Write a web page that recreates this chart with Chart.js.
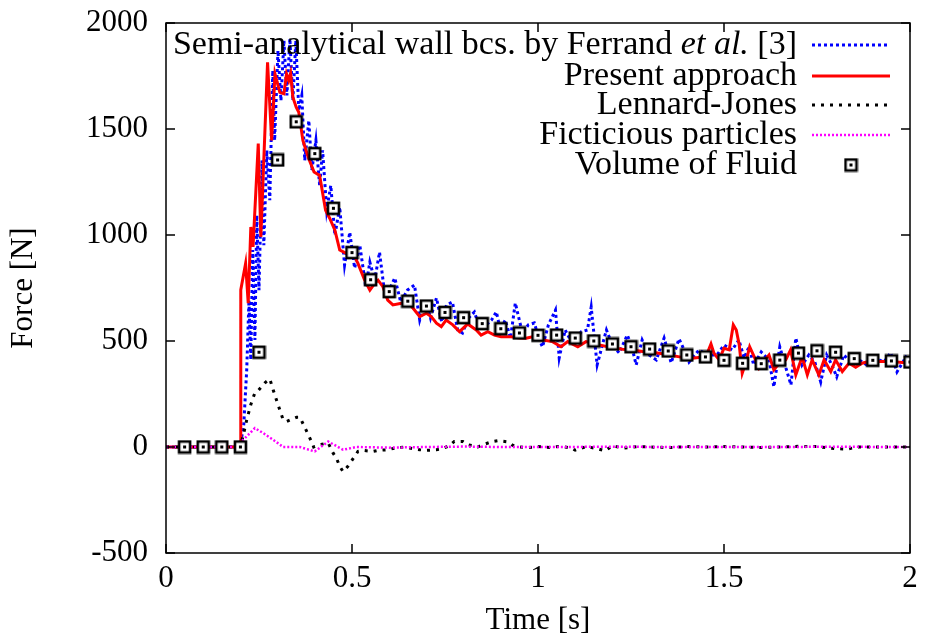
<html>
<head>
  <title>Force on wall</title>
  <style>
    body { margin: 0; background: #fff; }
  </style>
</head>
<body>
  <canvas id="forceChart" width="925" height="640"></canvas>
</body>
</html>

<script src="https://cdn.jsdelivr.net/npm/chart.js"></script>
<script>
  // axis ticks
  var xTicks = [0, 0.5, 1, 1.5, 2];
  var yTicks = [-500, 0, 500, 1000, 1500, 2000];

  // Semi-analytical wall bcs. (Ferrand et al.)
  var ferrandTime = [0, 0.199, 0.209, 0.217, 0.223, 0.228, 0.233, 0.239, 0.244, 0.250, 0.258, 0.263, 0.271, 0.279,
    0.287, 0.292, 0.301, 0.309, 0.317, 0.325, 0.333, 0.341, 0.349, 0.357, 0.365, 0.373, 0.384, 0.392, 0.403,
    0.413, 0.421, 0.432, 0.443, 0.454, 0.467, 0.480, 0.494, 0.507, 0.521, 0.537, 0.548, 0.561, 0.574, 0.585,
    0.596, 0.615, 0.631, 0.649, 0.668, 0.682, 0.698, 0.711, 0.727, 0.741, 0.754, 0.770, 0.784, 0.797, 0.813,
    0.829, 0.845, 0.861, 0.875, 0.888, 0.899, 0.912, 0.926, 0.939, 0.958, 0.974, 0.990, 1.004, 1.012, 1.028,
    1.047, 1.057, 1.073, 1.087, 1.103, 1.116, 1.133, 1.143, 1.159, 1.173, 1.184, 1.200, 1.218, 1.240, 1.251,
    1.264, 1.280, 1.299, 1.318, 1.339, 1.358, 1.379, 1.393, 1.406, 1.433, 1.455, 1.481, 1.500, 1.522, 1.540,
    1.554, 1.567, 1.580, 1.600, 1.621, 1.634, 1.650, 1.664, 1.680, 1.693, 1.710, 1.728, 1.744, 1.760, 1.776,
    1.790, 1.803, 1.822, 1.841, 1.863, 1.884, 1.906, 1.930, 1.948, 1.965, 1.989, 2.0];
  var ferrandForce = [0, 0, 105, 364, 693, 411, 929, 505, 1093, 740, 1352, 952, 1399, 1164,
    1776, 1446, 1870, 1634, 1917, 1658, 1926, 1634, 1917, 1587, 1658, 1352, 1540, 1305, 1446,
    1234, 1399, 1117, 1234, 999, 1131, 858, 1013, 844, 952, 754, 872, 787, 919, 764,
    726, 797, 684, 740, 764, 599, 693, 608, 703, 590, 670, 684, 552, 538, 608,
    637, 552, 576, 599, 637, 552, 599, 514, 679, 538, 576, 585, 505, 472, 576,
    646, 420, 552, 505, 505, 543, 552, 660, 387, 481, 552, 481, 444, 528, 481,
    387, 505, 434, 411, 514, 397, 510, 458, 401, 458, 434, 434, 481, 458, 505,
    420, 472, 387, 448, 411, 284, 472, 387, 293, 514, 387, 434, 401, 307, 434,
    387, 331, 434, 401, 411, 387, 420, 401, 444, 354, 425, 411];

  // Present approach
  var presentTime = [0, 0.199, 0.201, 0.214, 0.221, 0.228, 0.234, 0.248, 0.255, 0.273, 0.284, 0.293, 0.306,
    0.317, 0.324, 0.330, 0.335, 0.341, 0.350, 0.357, 0.368, 0.382, 0.398, 0.413, 0.429, 0.440, 0.454, 0.467,
    0.485, 0.503, 0.516, 0.534, 0.548, 0.561, 0.570, 0.583, 0.596, 0.610, 0.633, 0.650, 0.668, 0.682, 0.700,
    0.713, 0.727, 0.740, 0.753, 0.771, 0.789, 0.811, 0.834, 0.847, 0.865, 0.883, 0.901, 0.928, 0.950, 0.968,
    0.985, 1.013, 1.039, 1.062, 1.080, 1.107, 1.129, 1.165, 1.192, 1.227, 1.254, 1.281, 1.317, 1.353, 1.384,
    1.415, 1.442, 1.455, 1.465, 1.473, 1.487, 1.500, 1.514, 1.525, 1.533, 1.541, 1.549, 1.558, 1.569, 1.581,
    1.594, 1.610, 1.621, 1.634, 1.648, 1.666, 1.679, 1.693, 1.710, 1.724, 1.737, 1.755, 1.769, 1.787, 1.800,
    1.818, 1.836, 1.854, 1.871, 1.889, 1.916, 1.952, 2.0];
  var presentForce = [0, 0, 741, 866, 678, 1038, 944, 1431, 991, 1815, 1446, 1760, 1673,
    1666, 1760, 1729, 1763, 1650, 1603, 1579, 1446, 1368, 1297, 1281, 1117, 1079, 1023, 929,
    913, 913, 866, 787, 740, 772, 787, 756, 693, 670, 678, 685, 646, 615, 631,
    615, 584, 568, 599, 576, 544, 580, 552, 528, 544, 528, 520, 520, 514, 513,
    520, 505, 497, 473, 497, 473, 497, 481, 471, 461, 458, 450, 445, 434, 424,
    419, 424, 442, 486, 442, 411, 466, 458, 576, 552, 481, 348, 395, 473, 426,
    372, 411, 434, 364, 395, 411, 458, 340, 426, 340, 411, 340, 411, 356, 411,
    356, 395, 376, 395, 403, 403, 403, 395];

  // Lennard-Jones
  var ljTime = [0, 0.199, 0.207, 0.217, 0.228, 0.239, 0.248, 0.266, 0.279, 0.288, 0.301, 0.315, 0.324, 0.351,
    0.360, 0.373, 0.391, 0.397, 0.413, 0.436, 0.449, 0.458, 0.467, 0.476, 0.489, 0.498, 0.516, 0.530, 0.556,
    0.570, 0.597, 0.615, 0.641, 0.655, 0.682, 0.700, 0.727, 0.740, 0.762, 0.775, 0.798, 0.811, 0.838, 0.852,
    0.878, 0.892, 0.919, 0.932, 0.950, 0.97, 1.0, 1.03, 1.06, 1.09, 1.10, 1.13, 1.16, 1.18, 1.2, 1.23, 1.27,
    1.3, 1.35, 1.4, 1.45, 1.5, 1.55, 1.6, 1.65, 1.7, 1.75, 1.8, 1.83, 1.86, 1.9, 1.95, 2.0];
  var ljForce = [0, 0, 50, 128, 200, 256, 266, 303, 321, 270, 200, 128, 120, 140,
    140, 93, 26, 0, 11, 19, -28, -52, -91, -116, -91, -68, -21, -16, -21,
    -16, -13, -5, 0, -5, -13, -16, -13, -9, 6, 26, 26, 11, 0, 11,
    26, 30, 24, 8, 0, -3, 2, -2, 3, -5, -15, 2, -8, -18, 5, -5, 2,
    0, -3, 2, 0, 2, 0, -2, 0, 3, 2, -8, -10, 0, 0, 0, 0];

  // Ficticious particles
  var fictTime = [0, 0.195, 0.199, 0.217, 0.239, 0.261, 0.288, 0.315, 0.360, 0.400, 0.436, 0.476, 0.512,
    0.6, 0.7, 0.8, 0.9, 1.0, 1.2, 1.4, 1.6, 1.8, 2.0];
  var fictForce = [0, 0, 20, 50, 89, 66, 34, 0, 0, -21, 26, -13, 0,
    -3, 0, 2, 0, 0, 1, 0, 0, 1, 0];

  // Volume of Fluid
  var vofTime = [0.05, 0.10, 0.15, 0.20, 0.25, 0.30, 0.35, 0.40, 0.45, 0.50, 0.55, 0.60, 0.65, 0.70, 0.75,
    0.80, 0.85, 0.90, 0.95, 1.00, 1.05, 1.10, 1.15, 1.20, 1.25, 1.30, 1.35, 1.40, 1.45, 1.50, 1.55, 1.60,
    1.65, 1.70, 1.75, 1.80, 1.85, 1.90, 1.95, 2.00];
  var vofForce = [0, 0, 0, 0, 447, 1354, 1534, 1384, 1126, 917, 789, 733, 688, 665, 635,
    610, 582, 558, 538, 527, 528, 514, 500, 486, 473, 462, 453, 434, 425, 409, 395, 393,
    410, 443, 454, 447, 417, 409, 406, 401];

  var FONT = '"Liberation Serif", "Times New Roman", serif';

  function pairs(xs, ys) {
    var out = [];
    for (var i = 0; i < xs.length; i++) out.push({x: xs[i], y: ys[i]});
    return out;
  }

  // square with a dot in the middle, used for the VOF points
  var squareMark = document.createElement('canvas');
  squareMark.width = 15;
  squareMark.height = 15;
  (function () {
    var m = squareMark.getContext('2d');
    m.fillStyle = '#fff';
    m.fillRect(1.5, 1.5, 12, 12);
    m.strokeStyle = '#000';
    m.lineWidth = 2.6;
    m.strokeRect(2, 2, 11, 11);
    m.fillStyle = '#000';
    m.fillRect(6, 6, 3, 3);
  })();

  var series = [
    {label: 'Semi-analytical wall bcs. by Ferrand ', italic: 'et al.', tail: ' [3]',
     color: '#0000ff', width: 3, dash: [3, 3]},
    {label: 'Present approach', color: '#ff0000', width: 3, dash: []},
    {label: 'Lennard-Jones', color: '#000000', width: 3, dash: [3, 6]},
    {label: 'Ficticious particles', color: '#ff00ff', width: 2.5, dash: [2, 2]},
    {label: 'Volume of Fluid', marker: true}
  ];

  function lineSet(s, pts, order) {
    return {
      label: s.label,
      data: pts,
      borderColor: s.color,
      borderWidth: s.width,
      borderDash: s.dash,
      pointRadius: 0,
      tension: 0,
      fill: false,
      order: order
    };
  }

  // frame with inward ticks on all four sides
  var framePlugin = {
    id: 'frame',
    afterDatasetsDraw: function (chart) {
      var ctx = chart.ctx, a = chart.chartArea;
      var xs = chart.scales.x, ys = chart.scales.y;
      ctx.save();
      ctx.strokeStyle = '#000';
      ctx.lineWidth = 1.5;
      ctx.beginPath();
      xTicks.forEach(function (v) {
        var px = xs.getPixelForValue(v);
        ctx.moveTo(px, a.bottom); ctx.lineTo(px, a.bottom - 9);
        ctx.moveTo(px, a.top); ctx.lineTo(px, a.top + 9);
      });
      yTicks.forEach(function (v) {
        var py = ys.getPixelForValue(v);
        ctx.moveTo(a.left, py); ctx.lineTo(a.left + 9, py);
        ctx.moveTo(a.right, py); ctx.lineTo(a.right - 9, py);
      });
      ctx.stroke();
      ctx.strokeRect(a.left, a.top, a.right - a.left, a.bottom - a.top);
      ctx.restore();
    }
  };

  // key in the top right corner: text right-aligned, sample to its right
  var keyPlugin = {
    id: 'key',
    afterDatasetsDraw: function (chart) {
      var ctx = chart.ctx;
      var textRight = 797, sampleL = 812, sampleR = 890;
      var rows = [45, 76, 105, 135, 165];
      var upright = '34px ' + FONT, slanted = 'italic 34px ' + FONT;
      ctx.save();
      ctx.textBaseline = 'middle';
      ctx.fillStyle = '#000';
      series.forEach(function (s, i) {
        var y = rows[i];
        ctx.textAlign = 'left';
        if (s.italic) {
          ctx.font = upright;
          var wTail = ctx.measureText(s.tail).width;
          var wHead = ctx.measureText(s.label).width;
          ctx.font = slanted;
          var wIt = ctx.measureText(s.italic).width;
          var x0 = textRight - wTail - wIt - wHead;
          ctx.font = upright;
          ctx.fillText(s.label, x0, y);
          ctx.font = slanted;
          ctx.fillText(s.italic, x0 + wHead, y);
          ctx.font = upright;
          ctx.fillText(s.tail, x0 + wHead + wIt, y);
        } else {
          ctx.font = upright;
          ctx.textAlign = 'right';
          ctx.fillText(s.label, textRight, y);
        }
        if (s.marker) {
          ctx.drawImage(squareMark, (sampleL + sampleR) / 2 - 7.5, y - 7.5);
        } else {
          ctx.strokeStyle = s.color;
          ctx.lineWidth = s.width;
          ctx.setLineDash(s.dash);
          ctx.beginPath();
          ctx.moveTo(sampleL, y);
          ctx.lineTo(sampleR, y);
          ctx.stroke();
          ctx.setLineDash([]);
        }
      });
      ctx.restore();
    }
  };

  var ctx = document.getElementById('forceChart').getContext('2d');
  var forceChart = new Chart(ctx, {
    type: 'line',
    data: {
      datasets: [
        {
          label: 'Volume of Fluid',
          data: pairs(vofTime, vofForce),
          showLine: false,
          pointStyle: squareMark,
          pointRadius: 7,
          order: 0
        },
        lineSet(series[3], pairs(fictTime, fictForce), 1),
        lineSet(series[2], pairs(ljTime, ljForce), 2),
        lineSet(series[1], pairs(presentTime, presentForce), 3),
        lineSet(series[0], pairs(ferrandTime, ferrandForce), 4)
      ]
    },
    options: {
      responsive: false,
      animation: false,
      events: [],
      layout: { padding: { top: 23, right: 15, left: 0, bottom: 0 } },
      plugins: {
        legend: { display: false },
        tooltip: { enabled: false }
      },
      scales: {
        x: {
          type: 'linear',
          min: 0,
          max: 2,
          grid: { display: false, drawTicks: false },
          border: { display: false },
          afterBuildTicks: function (s) { s.ticks = xTicks.map(function (v) { return {value: v}; }); },
          afterFit: function (s) { s.height = 87; s.paddingLeft = 0; s.paddingRight = 0; },
          ticks: {
            padding: 10,
            color: '#000',
            maxRotation: 0,
            font: { family: FONT, size: 31, lineHeight: 1 },
            callback: function (v) { return String(v); }
          },
          title: {
            display: true,
            text: 'Time [s]',
            color: '#000',
            padding: { top: 0, bottom: 4 },
            font: { family: FONT, size: 31, lineHeight: 1 }
          }
        },
        y: {
          type: 'linear',
          min: -500,
          max: 2000,
          grid: { display: false, drawTicks: false },
          border: { display: false },
          afterBuildTicks: function (s) { s.ticks = yTicks.map(function (v) { return {value: v}; }); },
          afterFit: function (s) { s.width = 166; s.paddingTop = 0; s.paddingBottom = 0; },
          ticks: {
            padding: 18,
            color: '#000',
            font: { family: FONT, size: 31, lineHeight: 1 },
            callback: function (v) { return String(v); }
          },
          title: {
            display: true,
            text: 'Force [N]',
            color: '#000',
            padding: { top: 8, bottom: 0 },
            font: { family: FONT, size: 31, lineHeight: 1 }
          }
        }
      }
    },
    plugins: [framePlugin, keyPlugin]
  });
</script>
